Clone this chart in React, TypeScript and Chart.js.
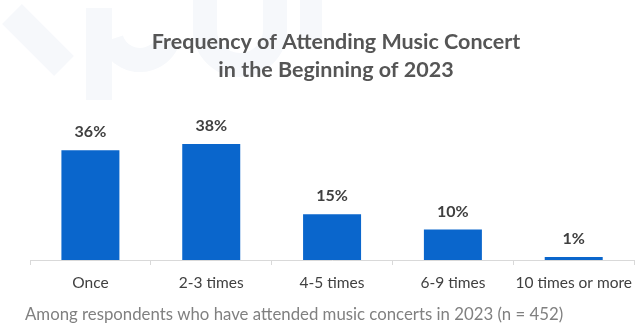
import React, { useEffect, useRef } from "react";
import { Chart, registerables } from "chart.js";

Chart.register(...registerables);

const categories = ["Once", "2-3 times", "4-5 times", "6-9 times", "10 times or more"];
const shares = [36, 38, 15, 10, 1];
const valueLabels = ["36%", "38%", "15%", "10%", "1%"];
const titleLines = ["Frequency of Attending Music Concert", "in the Beginning of 2023"];
const footnote = "Among respondents who have attended music concerts in 2023 (n = 452)";

const FONT = "Lato, 'Open Sans', sans-serif";

const watermark = {
  id: "watermark",
  beforeDraw(chart: any) {
    const ctx = chart.ctx;
    ctx.save();
    ctx.fillStyle = "#f6f8fb";
    ctx.strokeStyle = "#f6f8fb";
    ctx.lineCap = "butt";
    ctx.lineWidth = 28;
    ctx.beginPath();
    ctx.moveTo(12, 14);
    ctx.lineTo(64, 66);
    ctx.stroke();
    ctx.fillRect(86, 8, 26, 92);
    ctx.lineWidth = 24;
    ctx.beginPath();
    ctx.arc(140, 30, 30, Math.PI * 0.9, Math.PI * 0.1, true);
    ctx.stroke();
    ctx.beginPath();
    ctx.moveTo(205, 0);
    ctx.lineTo(205, 30);
    ctx.arc(240, 30, 35, Math.PI, 0, true);
    ctx.lineTo(275, 0);
    ctx.stroke();
    ctx.fillRect(300, 0, 22, 40);
    ctx.restore();
  },
};

const texts = {
  id: "texts",
  afterDraw(chart: any) {
    const ctx = chart.ctx;
    ctx.save();
    ctx.textAlign = "center";
    ctx.textBaseline = "alphabetic";
    ctx.fillStyle = "#555555";
    ctx.font = `bold 21.5px ${FONT}`;
    ctx.fillText(titleLines[0], 336, 49);
    ctx.fillText(titleLines[1], 336, 77);

    ctx.textAlign = "left";
    ctx.fillStyle = "#808080";
    ctx.font = `16.8px ${FONT}`;
    ctx.fillText(footnote, 25, 320);

    const meta = chart.getDatasetMeta(0);
    ctx.textAlign = "center";
    ctx.textBaseline = "middle";
    ctx.fillStyle = "#404040";
    ctx.font = `bold 16px ${FONT}`;
    meta.data.forEach((bar: any, i: number) => {
      ctx.fillText(valueLabels[i], bar.x, bar.y - 18);
    });
    ctx.restore();
  },
};

export default function App() {
  const ref = useRef<HTMLCanvasElement>(null);
  useEffect(() => {
    const chart = new Chart(ref.current!, {
      type: "bar",
      data: {
        labels: categories,
        datasets: [
          {
            data: shares,
            backgroundColor: "#0a66cc",
            categoryPercentage: 1,
            barPercentage: 0.48,
          },
        ],
      },
      options: {
        animation: false,
        responsive: false,
        maintainAspectRatio: false,
        layout: { padding: { left: 30, right: 0, top: 138, bottom: 0 } },
        plugins: {
          legend: { display: false },
          tooltip: { enabled: false },
          title: { display: false },
        },
        scales: {
          y: { display: false, min: 0, max: 40 },
          x: {
            afterFit(scale: any) {
              scale.height = 64;
            },
            border: { display: true, color: "#d9d9d9", width: 1 },
            grid: {
              offset: true,
              drawOnChartArea: false,
              drawTicks: true,
              tickLength: 5,
              color: "#d9d9d9",
            },
            ticks: {
              color: "#404040",
              font: { family: FONT, size: 15.5 },
              padding: 9,
              maxRotation: 0,
              autoSkip: false,
            },
          },
        },
      },
      plugins: [watermark, texts],
    });
    return () => chart.destroy();
  }, []);
  return (
    <div style={{ position: "fixed", left: 0, top: 0, width: 641, height: 324, background: "#fff" }}>
      <canvas ref={ref} width={641} height={324} style={{ width: 641, height: 324 }} />
    </div>
  );
}
